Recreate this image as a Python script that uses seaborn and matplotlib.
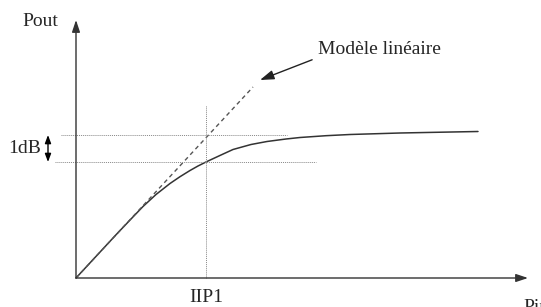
import numpy as np
import pandas as pd
import seaborn as sns
import matplotlib.pyplot as plt

# DATA (arbitrary units)
pin_curve = [0, 20, 40, 55, 67, 80, 94, 104, 114, 122, 131, 145, 157, 175, 191, 210, 224, 250, 274, 324, 360, 402]
pout_curve = [0, 21.6, 43.2, 59, 71.5, 83.5, 94.5, 101.3, 107.5, 112, 116.5, 123, 128.5, 133.5, 136.5, 139,
              140.5, 142.3, 143.5, 145, 145.7, 146.5]
pin_lin = [0, 177]
pout_lin = [0, 191]
iip1 = 130
p_sat_lo, p_sat_hi = 116, 143
labels = {'x': 'Pin', 'y': 'Pout', 'iip': 'IIP1', 'db': '1dB', 'model': 'Modèle linéaire'}

sns.set_theme(style='white')
plt.rcParams['font.family'] = ['Liberation Serif', 'DejaVu Serif']

fig = plt.figure(figsize=(5.41, 3.07), dpi=100)
ax = fig.add_axes([0, 0, 1, 1])
ax.set_xlim(-76, 465)
ax.set_ylim(-29, 278)
ax.axis('off')

df_curve = pd.DataFrame({'pin': pin_curve, 'pout': pout_curve})
df_lin = pd.DataFrame({'pin': pin_lin, 'pout': pout_lin})
sns.lineplot(data=df_curve, x='pin', y='pout', ax=ax, color='#333333', linewidth=1.1, sort=False)
sns.lineplot(data=df_lin, x='pin', y='pout', ax=ax, color='#555555', linewidth=1.0,
             linestyle=(0, (3, 2.5)), sort=False)

# axes arrows
arr = dict(arrowstyle='-|>,head_length=0.6,head_width=0.2', color='#333333', lw=1.0, shrinkA=0, shrinkB=0)
ax.annotate('', xy=(452, 0), xytext=(0, 0), arrowprops=arr)
ax.annotate('', xy=(0, 258), xytext=(0, 0), arrowprops=arr)

# dotted guides
dot = dict(color='#888888', linewidth=0.7, linestyle=(0, (1, 1)))
ax.plot([iip1, iip1], [0, 173], **dot)
ax.plot([-15, 211], [p_sat_hi, p_sat_hi], **dot)
ax.plot([-21, 240], [p_sat_lo, p_sat_lo], **dot)

# 1dB double arrow
ax.annotate('', xy=(-28, p_sat_hi), xytext=(-28, p_sat_lo),
            arrowprops=dict(arrowstyle='<|-|>,head_length=0.4,head_width=0.15', color='black', lw=1.0,
                            shrinkA=0, shrinkB=0))

fs = 14
ax.text(-35, (p_sat_lo + p_sat_hi) / 2, labels['db'], ha='right', va='center', fontsize=fs)
ax.text(-18, 256, labels['y'], ha='right', va='center', fontsize=fs)
ax.text(iip1, -11, labels['iip'], ha='center', va='top', fontsize=fs)
ax.text(447, -21, labels['x'], ha='left', va='top', fontsize=fs)

ax.annotate(labels['model'], xy=(184, 198), xytext=(242, 229), fontsize=fs, ha='left', va='center',
            arrowprops=dict(arrowstyle='-|>,head_length=0.6,head_width=0.2', color='#222222', lw=1.0,
                            shrinkA=2, shrinkB=0,
                            relpos=(0, 0.0)))

fig.savefig('out.png', dpi=100)
